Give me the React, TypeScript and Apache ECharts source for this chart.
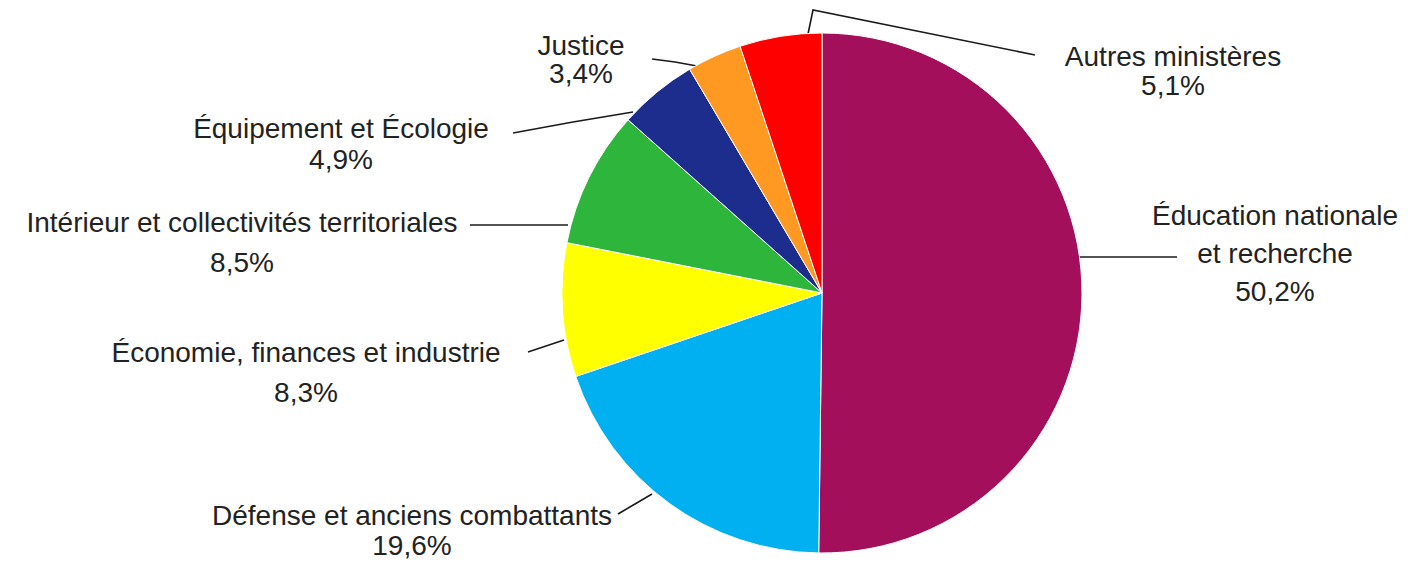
import React, { useEffect, useRef } from "react";
import * as echarts from "echarts";

// Data, clockwise from 12 o'clock
const categories: string[] = [
  "Éducation nationale\net recherche",
  "Défense et anciens combattants",
  "Économie, finances et industrie",
  "Intérieur et collectivités territoriales",
  "Équipement et Écologie",
  "Justice",
  "Autres ministères",
];
const shares: number[] = [50.2, 19.6, 8.3, 8.5, 4.9, 3.4, 5.1];
const colors: string[] = [
  "#A30F5B",
  "#00B0F0",
  "#FFFF00",
  "#2DB53C",
  "#1C2D8E",
  "#FF9922",
  "#FF0000",
];

// Layout of the labels (text block centre, line spacing) and leader lines
const labelCenters: number[][] = [
  [1275, 253],
  [412, 530],
  [306, 372],
  [242, 242],
  [341, 144],
  [581, 59],
  [1173, 71],
];
const labelLineHeights: number[] = [38, 30, 40, 40, 31, 28, 29];
const leaderLines: number[][][] = [
  [[1079, 257], [1130, 257], [1177, 257]],
  [[652, 494], [635, 504], [618, 514]],
  [[564, 340], [546, 346], [528, 352]],
  [[568, 225], [520, 225], [470, 225]],
  [[633, 112], [573, 122], [513, 133]],
  [[697, 66], [675, 62], [652, 59]],
  [[808, 34], [813, 10], [1035, 55]],
];

const fmt = (v: number) => v.toFixed(1).replace(".", ",") + "%";

export default function App() {
  const ref = useRef<HTMLDivElement>(null);
  useEffect(() => {
    document.body.style.margin = "0";
    if (!ref.current) return;
    const chart = echarts.init(ref.current, undefined, { renderer: "svg" });
    chart.setOption({
      animation: false,
      backgroundColor: "#ffffff",
      series: [
        {
          type: "pie",
          center: [822, 293],
          radius: 260,
          startAngle: 90,
          clockwise: true,
          avoidLabelOverlap: false,
          itemStyle: { borderColor: "#ffffff", borderWidth: 1 },
          label: {
            show: true,
            position: "outside",
            color: "#222222",
            fontFamily: "Liberation Sans, Arial, sans-serif",
            fontSize: 28,
            width: 600,
            overflow: "none",
            align: "center",
            formatter: (p: any) => p.name + "\n" + fmt(p.value),
          },
          labelLine: {
            show: true,
            length: 20,
            length2: 20,
            smooth: false,
            lineStyle: { color: "#1a1a1a", width: 1.6 },
          },
          emphasis: { disabled: true },
          labelLayout: (params: any) => {
            const i = params.dataIndex;
            return {
              x: labelCenters[i][0],
              y: labelCenters[i][1],
              align: "center",
              verticalAlign: "middle",
              labelLinePoints: leaderLines[i],
            };
          },
          data: categories.map((name, i) => ({
            name,
            value: shares[i],
            itemStyle: { color: colors[i] },
            label: { lineHeight: labelLineHeights[i] },
          })),
        },
      ],
    });
    return () => chart.dispose();
  }, []);
  return <div ref={ref} style={{ width: 1416, height: 564 }} />;
}
